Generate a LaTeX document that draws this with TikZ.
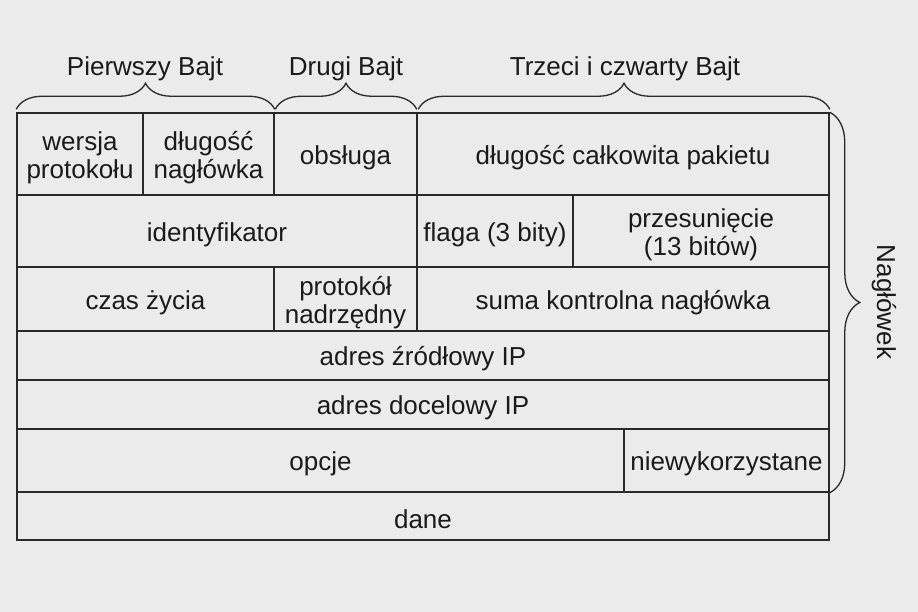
\documentclass[tikz,border=0pt]{standalone}
\usepackage{fontspec}
\setmainfont{Liberation Sans}
\usetikzlibrary{decorations.pathreplacing}
\definecolor{tlo}{HTML}{EBEBEB}
\definecolor{linia}{HTML}{2A2A2A}
\definecolor{tekst}{HTML}{1A1A1A}
\tikzset{
  pole/.style={draw=linia, line width=1.5pt, inner sep=0pt},
  every label/.style={inner sep=0pt, yshift=-3.5pt, align=center,
    text=tekst, font=\fontsize{26}{28}\selectfont},
  opis/.style={inner sep=0pt, text=tekst, font=\fontsize{26}{28}\selectfont},
  klamra/.style={draw=linia, line width=1.3pt, decorate,
    decoration={brace, amplitude=26pt}}
}
\begin{document}
\begin{tikzpicture}[x=1pt,y=-1pt]
\fill[tlo] (0,0) rectangle (918,612);
\useasboundingbox (0,0) rectangle (918,612);
% pierwszy wiersz
\node[pole, minimum width=126, minimum height=82, label={center:wersja\\protokołu}] (wersja) at (80,154) {};
\node[pole, minimum width=131, minimum height=82, label={center:długość\\nagłówka}] (dlugosc) at (208.5,154) {};
\node[pole, minimum width=143, minimum height=82, label={center:obsługa}] (obsluga) at (345.5,154) {};
\node[pole, minimum width=412, minimum height=82, label={center:długość całkowita pakietu}] (calkowita) at (623,154) {};
% drugi wiersz
\node[pole, minimum width=400, minimum height=72, label={center:identyfikator}] (ident) at (217,231) {};
\node[pole, minimum width=156, minimum height=72, label={center:flaga (3 bity)}] (flaga) at (495,231) {};
\node[pole, minimum width=256, minimum height=72, label={center:przesunięcie\\(13 bitów)}] (przes) at (701,231) {};
% trzeci wiersz
\node[pole, minimum width=257, minimum height=64, label={center:czas życia}] (czas) at (145.5,299) {};
\node[pole, minimum width=143, minimum height=64, label={center:protokół\\nadrzędny}] (protokol) at (345.5,299) {};
\node[pole, minimum width=412, minimum height=64, label={center:suma kontrolna nagłówka}] (suma) at (623,299) {};
% adresy
\node[pole, minimum width=812, minimum height=49, label={center:adres źródłowy IP}] (zrodlo) at (423,355.5) {};
\node[pole, minimum width=812, minimum height=49, label={center:adres docelowy IP}] (cel) at (423,404.5) {};
% opcje i dane
\node[pole, minimum width=607, minimum height=63, label={center:opcje}] (opcje) at (320.5,460.5) {};
\node[pole, minimum width=205, minimum height=63, label={center:niewykorzystane}] (niewyk) at (726.5,460.5) {};
\node[pole, minimum width=812, minimum height=48, label={center:dane}] (dane) at (423,516) {};
% klamry
\draw[klamra] ([yshift=3pt]wersja.north west) -- ([yshift=3pt]dlugosc.north east);
\draw[klamra] ([xshift=2pt,yshift=3pt]obsluga.north west) -- ([xshift=-1pt,yshift=3pt]obsluga.north east);
\draw[klamra] ([xshift=2pt,yshift=3pt]calkowita.north west) -- ([yshift=3pt]calkowita.north east);
\draw[klamra, decoration={amplitude=30pt}] (calkowita.north east) -- (niewyk.south east);
% opisy
\node[opis] (bajt1) at (145,69) {Pierwszy Bajt};
\node[opis] (bajt2) at (346,69) {Drugi Bajt};
\node[opis] (bajt34) at (625,69) {Trzeci i czwarty Bajt};
\node[opis, rotate=-90] (naglowek) at (884,302) {Nagłówek};
\end{tikzpicture}
\end{document}
